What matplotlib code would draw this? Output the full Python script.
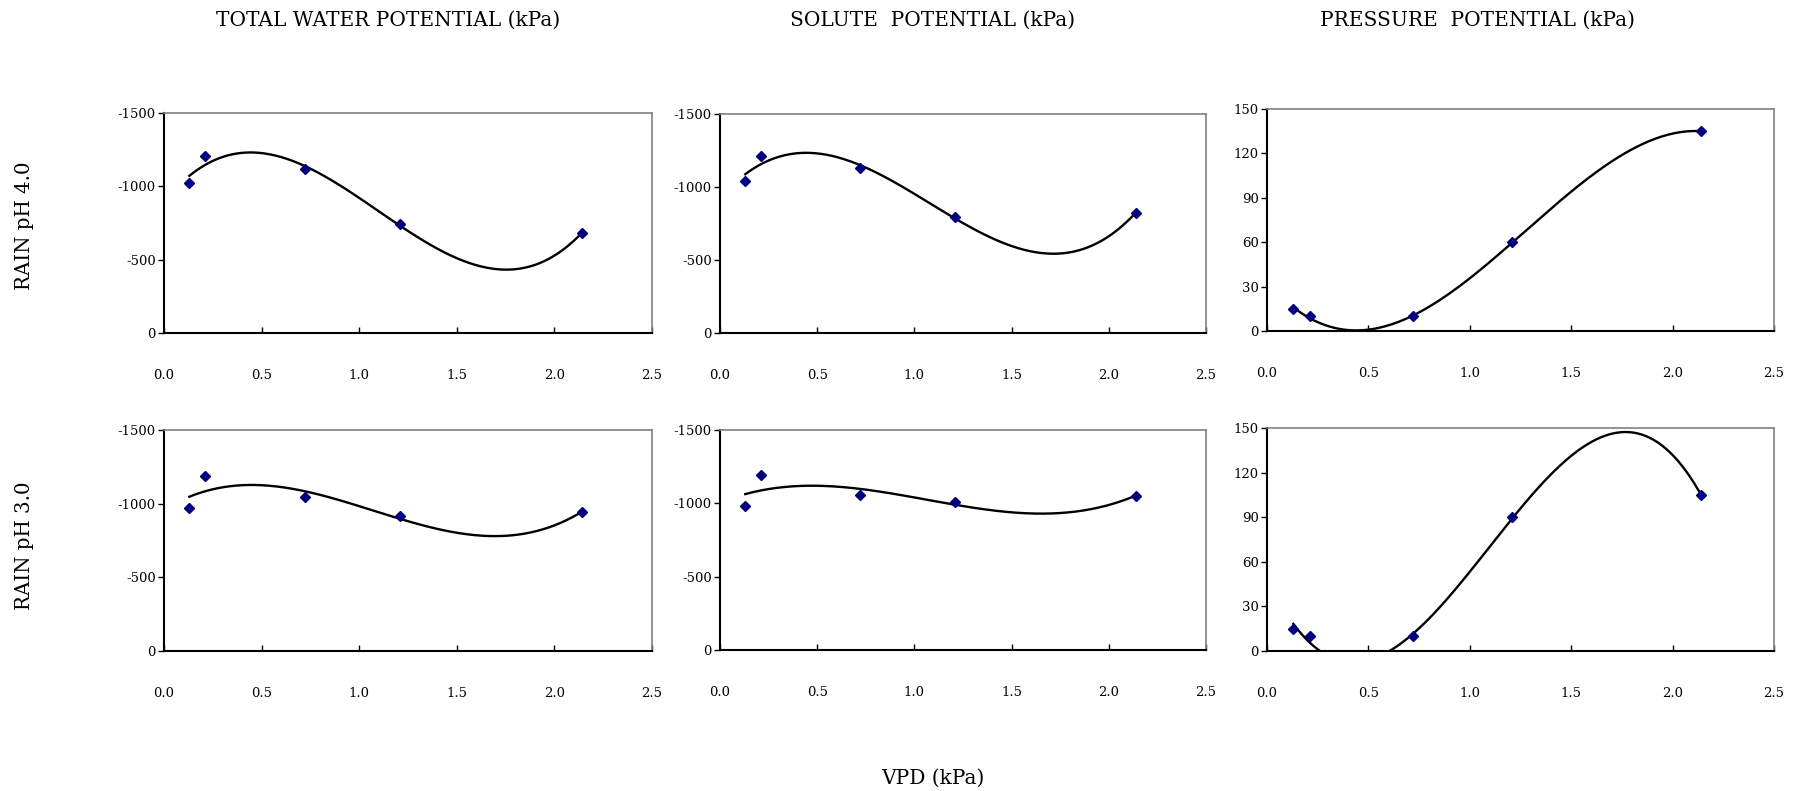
import numpy as np
import matplotlib
matplotlib.use("Agg")
import matplotlib.pyplot as plt

plt.rcParams['font.family'] = ['DejaVu Serif']
plt.rcParams['axes.unicode_minus'] = False

# VPD (kPa), same for every panel
vpd = [0.13, 0.21, 0.72, 1.21, 2.14]

# RAIN pH 4.0
total_ph4 = [-1026, -1205, -1117, -740, -681]
solute_ph4 = [-1042, -1215, -1128, -793, -825]
pressure_ph4 = [15, 10, 10, 60, 135]

# RAIN pH 3.0
total_ph3 = [-968, -1187, -1046, -913, -943]
solute_ph3 = [-982, -1193, -1059, -1007, -1052]
pressure_ph3 = [15, 10, 10, 90, 105]

col_titles = ['TOTAL WATER POTENTIAL (kPa)', 'SOLUTE  POTENTIAL (kPa)', 'PRESSURE  POTENTIAL (kPa)']
row_titles = ['RAIN pH 4.0', 'RAIN pH 3.0']

W, H = 1802, 791
fig = plt.figure(figsize=(W / 100, H / 100), dpi=100)


def box(left, top, right, bottom):
    return [left / W, 1 - bottom / H, (right - left) / W, (bottom - top) / H]


boxes = [
    [box(164, 113, 652, 333), box(720, 114, 1206, 333), box(1267, 109, 1774, 331)],
    [box(164, 430, 652, 651), box(720, 430, 1206, 650), box(1267, 428, 1774, 651)],
]
data = [
    [total_ph4, solute_ph4, pressure_ph4],
    [total_ph3, solute_ph3, pressure_ph3],
]

for r in range(2):
    for c in range(3):
        ax = fig.add_axes(boxes[r][c])
        y = data[r][c]
        # excel-style 3rd order polynomial trendline
        coef = np.polyfit(vpd, y, 3)
        xs = np.linspace(vpd[0], vpd[-1], 200)
        ax.plot(xs, np.polyval(coef, xs), color='black', lw=1.7, zorder=2)
        ax.plot(vpd, y, 'D', color='#00007f', ms=5, zorder=3)

        ax.set_xlim(0, 2.5)
        ax.set_xticks(np.arange(0, 2.51, 0.5))
        ax.set_xticklabels([f'{v:.1f}' for v in np.arange(0, 2.51, 0.5)])
        if c < 2:
            ax.set_ylim(0, -1500)
            ax.set_yticks([0, -500, -1000, -1500])
        else:
            ax.set_ylim(0, 150)
            ax.set_yticks(range(0, 151, 30))

        ax.tick_params(axis='x', direction='in', length=4, width=1, pad=26, labelsize=9.5)
        ax.tick_params(axis='y', direction='out', length=4, width=1, pad=2, labelsize=9.5)
        ax.spines['left'].set_linewidth(1.5)
        ax.spines['bottom'].set_linewidth(1.5)
        for s in ['top', 'right']:
            ax.spines[s].set_color('#808080')
            ax.spines[s].set_linewidth(1.2)

for x, t in zip([388, 933, 1478], col_titles):
    fig.text(x / W, 1 - 20 / H, t, ha='center', va='center', fontsize=14.5)

for yy, t in zip([226, 546], row_titles):
    fig.text(25 / W, 1 - yy / H, t, ha='center', va='center', rotation=90, fontsize=14.2)

fig.text(933 / W, 1 - 778 / H, 'VPD (kPa)', ha='center', va='center', fontsize=14.5)

fig.savefig('out.png', dpi=100)
